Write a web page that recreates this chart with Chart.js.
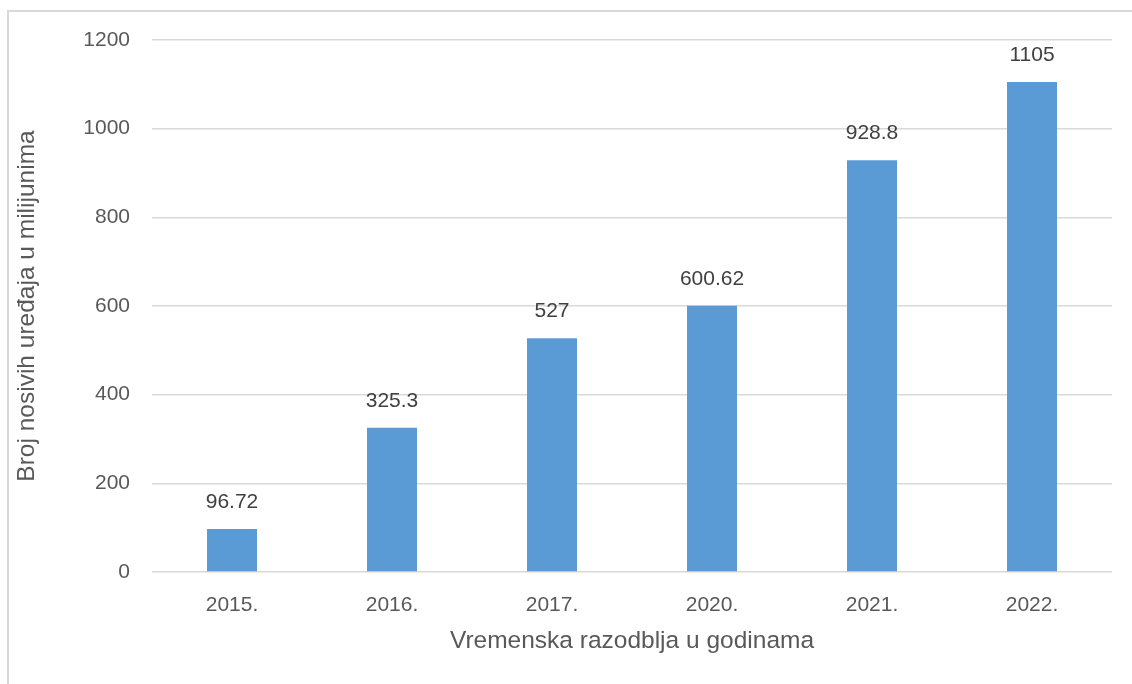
<!DOCTYPE html>
<html>
<head>
<meta charset="utf-8">
<script src="https://cdn.jsdelivr.net/npm/chart.js@4"></script>
<style>
    html, body { margin: 0; padding: 0; background: #fff; overflow: hidden; }
    #wrap { position: relative; width: 1132px; height: 684px; }
    #frame {
        position: absolute; left: 7px; top: 10px; width: 1300px; height: 800px;
        border-left: 2px solid #d9d9d9; border-top: 2px solid #d9d9d9;
        pointer-events: none;
    }
    canvas { position: absolute; left: 0; top: 0; }
</style>
</head>
<body>
<div id="wrap">
    <div id="frame"></div>
    <canvas id="chart" width="1132" height="684"></canvas>
</div>
<script>
// podaci
const years = ['2015.', '2016.', '2017.', '2020.', '2021.', '2022.'];
const devices = [96.72, 325.3, 527, 600.62, 928.8, 1105];
const valueLabels = ['96.72', '325.3', '527', '600.62', '928.8', '1105'];
const yTicks = [0, 200, 400, 600, 800, 1000, 1200];

const FONT = '"Liberation Sans", Arial, sans-serif';
const TEXT = '#595959';

// vrijednosti iznad stupaca
const barLabels = {
    id: 'barLabels',
    afterDatasetsDraw(chart) {
        const ctx = chart.ctx;
        const meta = chart.getDatasetMeta(0);
        ctx.save();
        ctx.font = '21px ' + FONT;
        ctx.fillStyle = '#404040';
        ctx.textAlign = 'center';
        ctx.textBaseline = 'alphabetic';
        meta.data.forEach((bar, i) => {
            ctx.fillText(valueLabels[i], bar.x, bar.y - 21);
        });
        ctx.restore();
    }
};

new Chart(document.getElementById('chart').getContext('2d'), {
    type: 'bar',
    data: {
        labels: years,
        datasets: [{
            data: devices,
            backgroundColor: '#5b9bd5',
            borderWidth: 0,
            categoryPercentage: 1,
            barPercentage: 0.3125
        }]
    },
    options: {
        responsive: false,
        animation: false,
        layout: { padding: { top: 40, right: 20, bottom: 27, left: 0 } },
        plugins: {
            legend: { display: false },
            tooltip: { enabled: false }
        },
        scales: {
            x: {
                grid: { display: false, drawTicks: false },
                border: { display: false },
                ticks: { color: TEXT, font: { family: FONT, size: 21 }, padding: 21 },
                title: {
                    display: true,
                    text: 'Vremenska razodblja u godinama',
                    color: TEXT,
                    font: { family: FONT, size: 24.5 },
                    padding: { top: 4, bottom: 1 }
                },
                afterFit(scale) { scale.height = 85; }
            },
            y: {
                min: 0,
                max: 1200,
                afterBuildTicks(scale) { scale.ticks = yTicks.map(v => ({ value: v })); },
                grid: { color: '#d9d9d9', lineWidth: 1.5, drawTicks: false },
                border: { display: false },
                ticks: {
                    color: TEXT,
                    font: { family: FONT, size: 21 },
                    padding: 22,
                    callback: v => String(v)
                },
                title: {
                    display: true,
                    text: 'Broj nosivih uređaja u milijunima',
                    color: TEXT,
                    font: { family: FONT, size: 24.5 },
                    padding: { top: 13, bottom: 0 }
                },
                afterFit(scale) { scale.width = 152; }
            }
        }
    },
    plugins: [barLabels]
});
</script>
</body>
</html>
